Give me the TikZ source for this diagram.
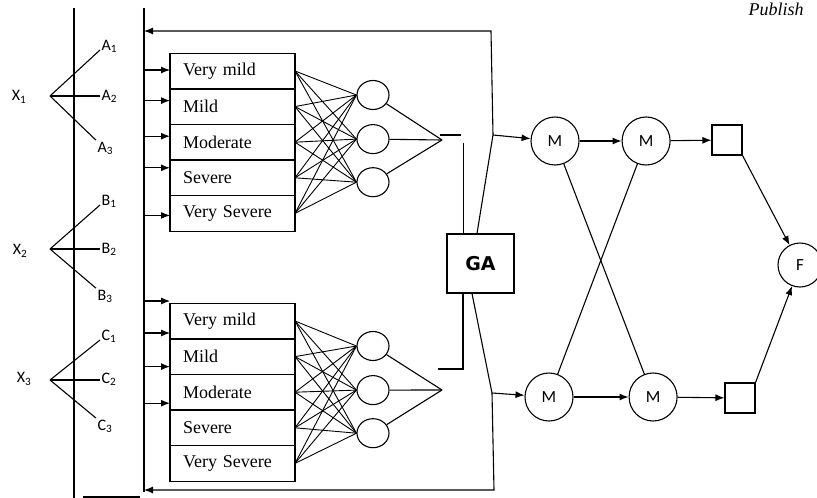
\documentclass[tikz,border=0pt]{standalone}
\usepackage{fontspec}
\setmainfont{Liberation Serif}
\newfontfamily\calib{Carlito}
\newfontfamily\dvsans{DejaVu Sans}
\usetikzlibrary{shapes.geometric, arrows.meta, positioning, calc}

\begin{document}
\begin{tikzpicture}[
    x=1pt, y=-1pt,
    line width=1.1pt,
    >={Latex[length=9pt, width=7pt]},
    mf/.style={rectangle, draw, outer sep=0pt, minimum width=125pt, minimum height=35.6pt, text width=99pt, inner xsep=13pt, align=left, font=\fontsize{18}{20}\selectfont},
    neuron/.style={ellipse, draw, minimum width=32pt, minimum height=29pt, inner sep=0pt},
    mnode/.style={circle, draw, minimum size=48pt, inner sep=0pt, font=\calib\fontsize{17}{19}\selectfont},
    outbox/.style={rectangle, draw, minimum size=30pt},
    gabox/.style={rectangle, draw, minimum width=67pt, minimum height=59pt, font=\dvsans\bfseries\fontsize{19}{21}\selectfont},
    lbl/.style={inner sep=1pt, font=\calib\fontsize{16}{18}\selectfont},
    fan/.style={line width=0.9pt}
]
    \useasboundingbox (0,0) rectangle (817,498);

    % page header
    \node (hdr) [anchor=base west, inner sep=0pt, font=\itshape\fontsize{18}{20}\selectfont] at (748,15) {Publish};

    % the two rails
    \coordinate (rail) at (74,8);
    \coordinate (bus) at (144,8);
    \draw (rail) -- (rail |- 0,498);
    \draw (bus) -- (bus |- 0,492);
    \draw (83,497) -- (140,497);

    % inputs and their terms
    \node (x1) [lbl] at (19,97) {X\textsubscript{1}};
    \node (x2) [lbl] at (20,251) {X\textsubscript{2}};
    \node (x3) [lbl] at (24,379) {X\textsubscript{3}};
    \coordinate (o1) at (50,96);
    \coordinate (o2) at (50,249);
    \coordinate (o3) at (50,380);

    \node (a1) [lbl, anchor=base west] at (100,50) {A\textsubscript{1}};
    \node (a2) [lbl, anchor=base west] at (100,100) {A\textsubscript{2}};
    \node (a3) [lbl, anchor=base west] at (96,152) {A\textsubscript{3}};
    \node (b1) [lbl, anchor=base west] at (100,205) {B\textsubscript{1}};
    \node (b2) [lbl, anchor=base west] at (100,253) {B\textsubscript{2}};
    \node (b3) [lbl, anchor=base west] at (96,300) {B\textsubscript{3}};
    \node (c1) [lbl, anchor=base west] at (100,340) {C\textsubscript{1}};
    \node (c2) [lbl, anchor=base west] at (100,383) {C\textsubscript{2}};
    \node (c3) [lbl, anchor=base west] at (96,430) {C\textsubscript{3}};

    \foreach \o/\k in {o1/a, o2/b, o3/c} {
        \draw (\o) -- (\k1.base west);
        \draw (\o) -- (\o -| \k2.base west);
        \draw (\o) -- (\k3.north west);
    }

    % membership functions, upper block
    \node (mfa1) [mf] at (232.5,71) {Very mild};
    \node (mfa2) [mf, below=0pt of mfa1] {Mild};
    \node (mfa3) [mf, below=0pt of mfa2] {Moderate};
    \node (mfa4) [mf, below=0pt of mfa3] {Severe};
    \node (mfa5) [mf, below=0pt of mfa4] {Very Severe};
    \draw[line width=1.9pt] (mfa1.south west) -- (mfa1.south east);

    % membership functions, lower block
    \node (mfb1) [mf] at (232.5,321) {Very mild};
    \node (mfb2) [mf, below=0pt of mfb1] {Mild};
    \node (mfb3) [mf, below=0pt of mfb2] {Moderate};
    \node (mfb4) [mf, below=0pt of mfb3] {Severe};
    \node (mfb5) [mf, below=0pt of mfb4] {Very Severe};
    \draw[line width=1.9pt] (mfb1.south west) -- (mfb1.south east);

    \foreach \n/\dy in {1/1, 2/6, 3/6, 4/10, 5/-2}
        \draw[<-] ([yshift=\dy pt]mfa\n.west) -- ++(-26,0);
    \foreach \n/\dy in {1/20, 1/-12, 2/-10, 3/-11}
        \draw[<-] ([yshift=\dy pt]mfb\n.west) -- ++(-26,0);

    % hidden neurons
    \node (na1) [neuron] at (373,95) {};
    \node (na2) [neuron, below=14pt of na1] {};
    \node (na3) [neuron, below=13pt of na2] {};
    \node (nb1) [neuron] at (373,346) {};
    \node (nb2) [neuron, below=14pt of nb1] {};
    \node (nb3) [neuron, below=13pt of nb2] {};
    \coordinate (ca) at (442,140);
    \coordinate (cb) at (442,390);

    \foreach \i in {1,...,5}
        \foreach \j in {1,2,3} {
            \draw[fan] (mfa\i.east) -- (na\j.west);
            \draw[fan] (mfb\i.east) -- (nb\j.west);
        }
    \foreach \j in {1,2,3} {
        \draw (na\j) -- (ca);
        \draw (nb\j) -- (cb);
    }

    % GA block
    \node (ga) [gabox] at (480.5,263.5) {GA};
    \coordinate (sa) at (440,135);
    \coordinate (sb) at (438,369);
    \draw (sa) -- ++(21,0);
    \draw ([xshift=-17pt]ga.north) -- ++(0,-90);
    \draw ([xshift=-17.5pt]ga.south) |- (sb);

    \coordinate (ja) at (493,135);
    \coordinate (jt) at (491,31);
    \coordinate (jb) at (492,393);
    \coordinate (jbb) at (494,490);
    \draw[->] ([xshift=-3.5pt]ga.north) -- (ja) -- (jt) -- (jt -| bus);
    \draw[->] ([xshift=-8.5pt]ga.south) -- (jb) -- (jbb) -- (jbb -| bus);

    % output side
    \node (mt1) [mnode] at (555,141) {M};
    \node (mt2) [mnode, right=42pt of mt1] {M};
    \node (sqt) [outbox] at (727,140) {};
    \node (mb1) [mnode] at (549,397) {M};
    \node (mb2) [mnode, right=55pt of mb1] {M};
    \node (sqb) [outbox] at (740,398) {};
    \node (fn) [mnode, minimum size=44pt] at (800,265) {F};

    \draw[->] (ja) -- (mt1);
    \draw[->] (jb) -- (mb1);
    \draw[->] (mt1) -- (mt2);
    \draw[->] (mt2) -- (sqt);
    \draw[->] (mb1) -- (mb2);
    \draw[->] (mb2) -- (sqb);
    \draw (mt1) -- (mb2);
    \draw (mt2) -- (mb1);
    \draw[->] (sqt.south east) -- (fn);
    \draw[->] (sqb.north east) -- (fn);
\end{tikzpicture}
\end{document}
